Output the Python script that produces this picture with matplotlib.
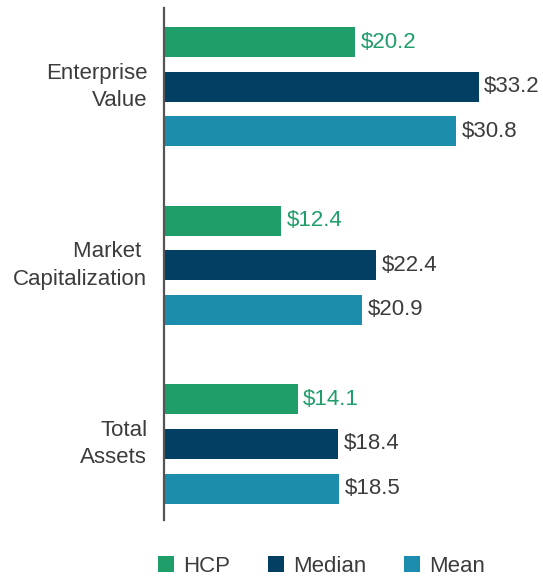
import matplotlib.pyplot as plt
import matplotlib.transforms as mtransforms
import numpy as np

plt.rcParams["font.family"] = ["Liberation Sans", "DejaVu Sans"]

categories = ["Enterprise\nValue", "Market \nCapitalization", "Total\nAssets"]
series = ["HCP", "Median", "Mean"]
hcp = [20.2, 12.4, 14.1]
median = [33.2, 22.4, 18.4]
mean = [30.8, 20.9, 18.5]

colors = ["#1f9e6a", "#033f63", "#1d8dad"]
label_colors = ["#1f9e6a", "#3c3c3c", "#3c3c3c"]

fig = plt.figure(figsize=(5.43, 5.77), dpi=100)
ax = fig.add_axes([0.302, 0.099, 0.698, 0.887])

group_pos = np.arange(len(categories)) * 4
for i, (name, vals) in enumerate(zip(series, [hcp, median, mean])):
    y = group_pos + i
    ax.barh(y, vals, height=0.67, color=colors[i], label=name)
    for yy, v in zip(y, vals):
        ax.text(v + 0.6, yy, f"${v}", va="center", ha="left",
                fontsize=16, color=label_colors[i])

ax.set_yticks(group_pos + 1)
ax.set_yticklabels(categories, fontsize=16, color="#3c3c3c", linespacing=1.4)
ax.tick_params(axis="y", length=0, pad=12)
shift = mtransforms.ScaledTranslation(0, 4 / 72, fig.dpi_scale_trans)
for lbl in ax.get_yticklabels():
    lbl.set_transform(lbl.get_transform() + shift)
ax.set_xticks([])
ax.set_xlim(0, 40)
ax.set_ylim(10.7, -0.76)

for s in ["top", "right", "bottom"]:
    ax.spines[s].set_visible(False)
ax.spines["left"].set_color("#555555")
ax.spines["left"].set_linewidth(1.6)

fig.legend(loc="center", bbox_to_anchor=(0.592, 0.019), ncol=3, frameon=False,
           fontsize=16, handlelength=0.72, handleheight=0.72,
           handletextpad=0.4, columnspacing=1.7, labelcolor="#3c3c3c")

fig.savefig("out.png", dpi=100)
